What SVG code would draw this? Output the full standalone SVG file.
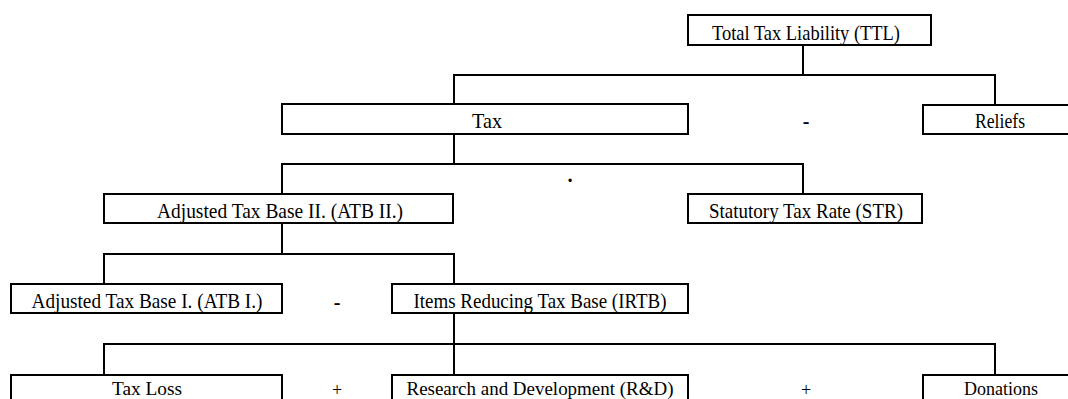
<svg xmlns="http://www.w3.org/2000/svg" width="1068" height="399" viewBox="0 0 1068 399">
  <style>
    .box { fill: #ffffff; stroke: #000000; stroke-width: 2; }
    .link { fill: none; stroke: #000000; stroke-width: 2; }
    .label { font-family: "Liberation Serif", "Times New Roman", serif; font-size: 21px; fill: #000000; text-anchor: middle; }
    .low { font-size: 19px; }
    .op { font-family: "Liberation Serif", "Times New Roman", serif; font-size: 18px; fill: #000000; text-anchor: middle; }
    .opb { font-family: "Liberation Serif", "Times New Roman", serif; font-size: 20px; font-weight: bold; fill: #000000; text-anchor: middle; }
  </style>
  <rect width="1068" height="399" fill="#ffffff"/>

  <!-- tree connectors -->
  <g id="connectors">
    <path class="link" d="M803 45 V75 M454 104 V75 H995 V105"/>
    <path class="link" d="M454 134 V164 M282 194 V164 H803 V194"/>
    <path class="link" d="M282 223 V254 M104 284 V254 H454 V284"/>
    <path class="link" d="M454 313 V344 M104 375 V344 H995 V375 M454 344 V375"/>
  </g>

  <!-- operators between siblings -->
  <g id="operators">
    <text class="opb" x="806" y="128">-</text>
    <text class="opb" x="570" y="187">·</text>
    <text class="opb" x="337" y="309">-</text>
    <text class="op" x="337" y="396">+</text>
    <text class="op" x="806" y="396">+</text>
  </g>

  <g id="ttl">
    <rect class="box" x="688" y="15" width="243" height="30"/>
    <text class="label" x="806" y="40" textLength="188" lengthAdjust="spacingAndGlyphs">Total Tax Liability (TTL)</text>
  </g>
  <g id="tax">
    <rect class="box" x="282" y="104" width="406" height="30"/>
    <text class="label" x="487" y="128" textLength="30" lengthAdjust="spacingAndGlyphs">Tax</text>
  </g>
  <g id="reliefs">
    <rect class="box" x="923" y="105" width="155" height="29"/>
    <text class="label" x="1000" y="128" textLength="50" lengthAdjust="spacingAndGlyphs">Reliefs</text>
  </g>
  <g id="atb2">
    <rect class="box" x="104" y="194" width="349" height="29"/>
    <text class="label" x="280" y="218" textLength="246" lengthAdjust="spacingAndGlyphs">Adjusted Tax Base II. (ATB II.)</text>
  </g>
  <g id="str">
    <rect class="box" x="688" y="194" width="234" height="29"/>
    <text class="label" x="806" y="218" textLength="194" lengthAdjust="spacingAndGlyphs">Statutory Tax Rate (STR)</text>
  </g>
  <g id="atb1">
    <rect class="box" x="11" y="284" width="271" height="29"/>
    <text class="label" x="147" y="308" textLength="231" lengthAdjust="spacingAndGlyphs">Adjusted Tax Base I. (ATB I.)</text>
  </g>
  <g id="irtb">
    <rect class="box" x="392" y="284" width="296" height="29"/>
    <text class="label" x="540" y="308" textLength="253" lengthAdjust="spacingAndGlyphs">Items Reducing Tax Base (IRTB)</text>
  </g>
  <g id="taxloss">
    <rect class="box" x="11" y="375" width="271" height="30"/>
    <text class="label low" x="147" y="395" textLength="70" lengthAdjust="spacingAndGlyphs">Tax Loss</text>
  </g>
  <g id="rnd">
    <rect class="box" x="392" y="375" width="296" height="30"/>
    <text class="label low" x="540" y="395" textLength="267" lengthAdjust="spacingAndGlyphs">Research and Development (R&amp;D)</text>
  </g>
  <g id="donations">
    <rect class="box" x="923" y="375" width="155" height="30"/>
    <text class="label low" x="1001" y="395" textLength="74" lengthAdjust="spacingAndGlyphs">Donations</text>
  </g>
</svg>
